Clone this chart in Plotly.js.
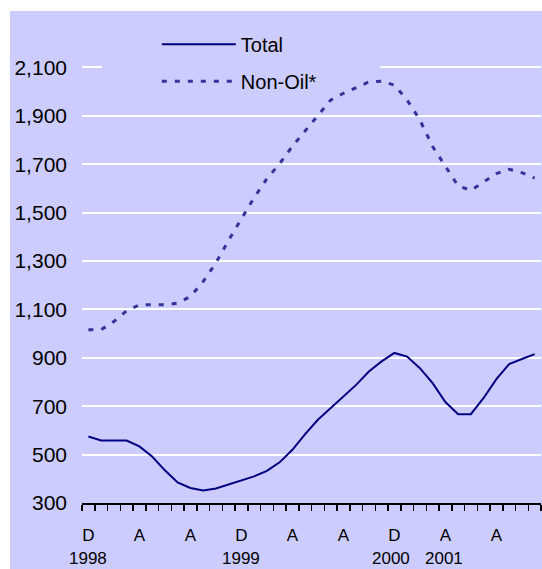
<!DOCTYPE html>
<html>
<head>
<meta charset="utf-8">
<script src="https://cdn.plot.ly/plotly-3.0.1.min.js"></script>
<style>
  html, body { margin: 0; padding: 0; background: #ffffff; }
  #chart { width: 542px; height: 569px; }
</style>
</head>
<body>
<div id="chart"></div>
<script>
// Monthly observations, Dec 1998 through Nov 2001
const months = [
  '1998-12', '1999-01', '1999-02', '1999-03', '1999-04', '1999-05',
  '1999-06', '1999-07', '1999-08', '1999-09', '1999-10', '1999-11',
  '1999-12', '2000-01', '2000-02', '2000-03', '2000-04', '2000-05',
  '2000-06', '2000-07', '2000-08', '2000-09', '2000-10', '2000-11',
  '2000-12', '2001-01', '2001-02', '2001-03', '2001-04', '2001-05',
  '2001-06', '2001-07', '2001-08', '2001-09', '2001-10', '2001-11'
];

const totalValues = [
  575, 558, 558, 558, 534, 492, 435, 385, 362, 352, 360, 376,
  393, 410, 433, 468, 520, 585, 644, 692, 736, 788, 843, 885,
  920, 905, 857, 795, 717, 667, 667, 734, 812, 874, 895, 915
];

const nonOilValues = [
  1016, 1016, 1050, 1094, 1119, 1120, 1119, 1126, 1153, 1215, 1292, 1386,
  1477, 1562, 1640, 1702, 1774, 1838, 1905, 1965, 1993, 2018, 2040, 2043,
  2027, 1965, 1883, 1773, 1690, 1610, 1592, 1626, 1661, 1679, 1665, 1642
];

// Month letters every four months, with the year written beneath some of them
const monthTickPos = [0, 4, 8, 12, 16, 20, 24, 28, 32];
const monthTickText = ['D', 'A', 'A', 'D', 'A', 'A', 'D', 'A', 'A'];
const yearLabels = ['1998', '1999', '2000', '2001'];
const yearPos = [0, 12, 23.75, 27.9];

const yTicks = [300, 500, 700, 900, 1100, 1300, 1500, 1700, 1900, 2100];

const seriesNames = ['Total', 'Non-Oil*'];

const xIdx = months.map((m, i) => i);
const FONT = 'Arial, "Liberation Sans", sans-serif';
const PANEL = '#ccccff';

const traces = [
  {
    x: xIdx, y: totalValues, name: seriesNames[0], type: 'scatter', mode: 'lines',
    line: { color: '#000080', width: 2 }, legendgroup: 'g1', hoverinfo: 'skip'
  },
  {
    x: xIdx, y: nonOilValues, name: seriesNames[1], type: 'scatter', mode: 'lines',
    line: { color: '#333399', width: 3, dash: '5px,8px' }, legendgroup: 'g2', hoverinfo: 'skip'
  }
];

const annotations = yearLabels.map((t, i) => ({
  text: t, x: yearPos[i], xref: 'x', y: -0.114, yref: 'paper',
  xanchor: 'center', yanchor: 'middle', showarrow: false,
  font: { family: FONT, size: 17, color: '#000000' }
}));

const layout = {
  width: 542, height: 569,
  margin: { l: 82, r: 1, t: 19, b: 66, pad: 0 },
  paper_bgcolor: '#ffffff',
  plot_bgcolor: PANEL,
  font: { family: FONT, color: '#000000' },
  showlegend: true,
  legend: {
    x: 0.163, y: 0.988, xanchor: 'left', yanchor: 'top',
    bgcolor: PANEL, borderwidth: 0,
    font: { family: FONT, size: 20, color: '#000000' },
    itemwidth: 74, tracegroupgap: 8, traceorder: 'grouped'
  },
  xaxis: {
    range: [-0.5, 35.5], fixedrange: true, zeroline: false,
    showgrid: false, showline: true, linecolor: '#000000', linewidth: 2,
    tickmode: 'array', tickvals: monthTickPos, ticktext: monthTickText,
    ticks: '', ticklabelstandoff: 16,
    tickfont: { family: FONT, size: 17, color: '#000000' },
    minor: {
      tickmode: 'linear', tick0: -0.5, dtick: 1, ticks: 'outside',
      ticklen: 6, tickwidth: 1.5, tickcolor: '#000000', showgrid: false
    }
  },
  yaxis: {
    range: [300, 2300], fixedrange: true, zeroline: false,
    showline: false, showgrid: true, gridcolor: '#ffffff', gridwidth: 2,
    tickmode: 'array', tickvals: yTicks, tickformat: ',d',
    ticks: '', ticklabelstandoff: 14,
    tickfont: { family: FONT, size: 21, color: '#000000' }
  },
  shapes: [
    // panel fill behind the whole chart, including the label margins
    {
      type: 'rect', xref: 'paper', yref: 'paper', layer: 'below',
      x0: -0.157, x1: 1.01, y0: -0.2, y1: 1.0165,
      line: { width: 0 }, fillcolor: PANEL
    },
    // the legend block masks the top gridline across its full width
    {
      type: 'rect', xref: 'paper', yref: 'y', layer: 'above',
      x0: 0.044, x1: 0.65, y0: 2085, y1: 2115,
      line: { width: 0 }, fillcolor: PANEL
    }
  ],
  annotations: annotations
};

Plotly.newPlot('chart', traces, layout, { staticPlot: true, displayModeBar: false });
</script>
</body>
</html>
